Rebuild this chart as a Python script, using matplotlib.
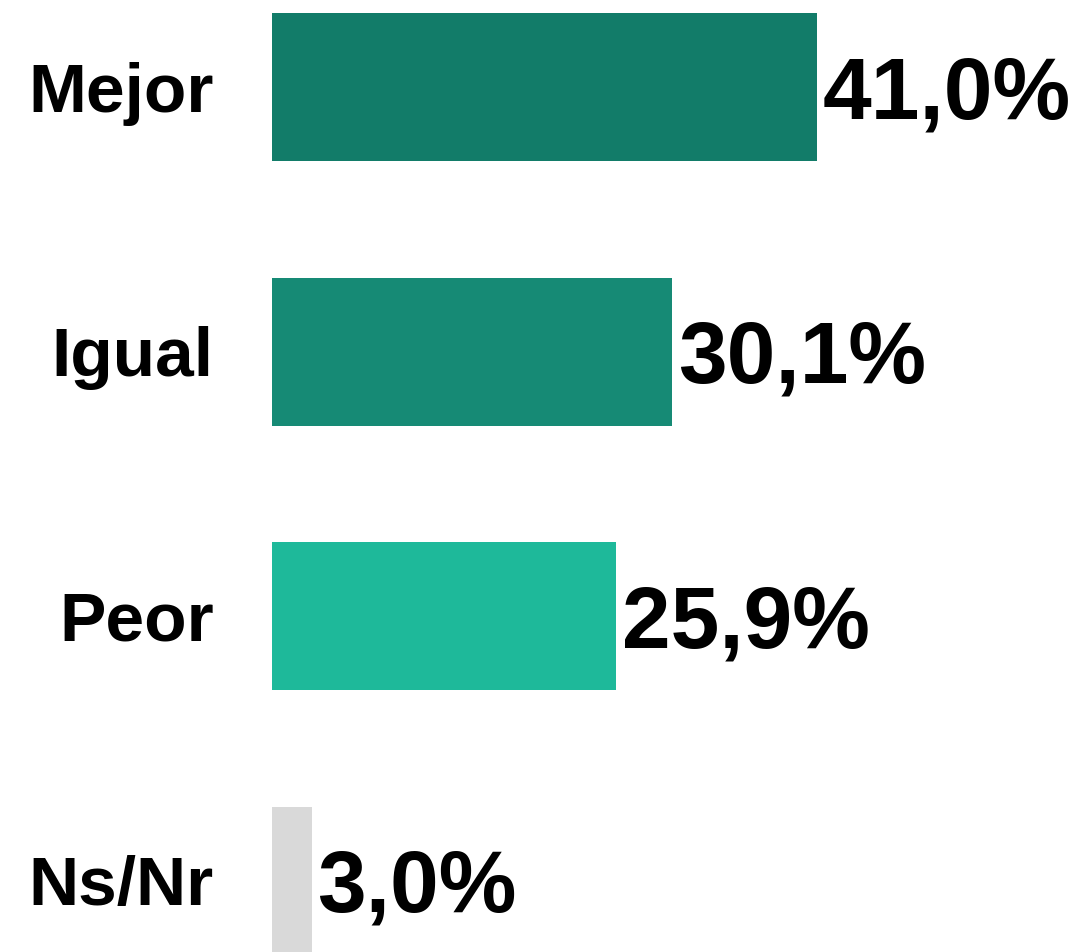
import numpy as np
import matplotlib
matplotlib.use("Agg")
import matplotlib.pyplot as plt

categories = ["Mejor", "Igual", "Peor", "Ns/Nr"]
values = [41.0, 30.1, 25.9, 3.0]
value_labels = ["41,0%", "30,1%", "25,9%", "3,0%"]
bar_colors = ["#127C69", "#168A75", "#1EB99A", "#D9D9D9"]

plt.rcParams["font.family"] = ["Liberation Sans", "DejaVu Sans"]

fig = plt.figure(figsize=(10.91, 9.52), dpi=100)
ax = fig.add_axes([272 / 1091, 0, 1 - 272 / 1091, 1])

y = np.arange(len(categories))
ax.barh(y, values, height=0.56, color=bar_colors)

ax.set_xlim(0, 61.6)
ax.set_ylim(3.27, -0.33)
ax.axis("off")

for i, (v, lab, cat) in enumerate(zip(values, value_labels, categories)):
    # value label right of the bar, baseline below bar centre
    ax.annotate(lab, xy=(v, i), xytext=(4, -22.5), textcoords="offset points",
                ha="left", va="baseline", fontsize=63, fontweight="bold",
                color="black")
    # category label on the left
    ax.annotate(cat, xy=(0, i), xytext=(-42, -17.5), textcoords="offset points",
                ha="right", va="baseline", fontsize=50, fontweight="bold",
                color="black", annotation_clip=False)

fig.savefig("out.png", dpi=100, facecolor="white")
